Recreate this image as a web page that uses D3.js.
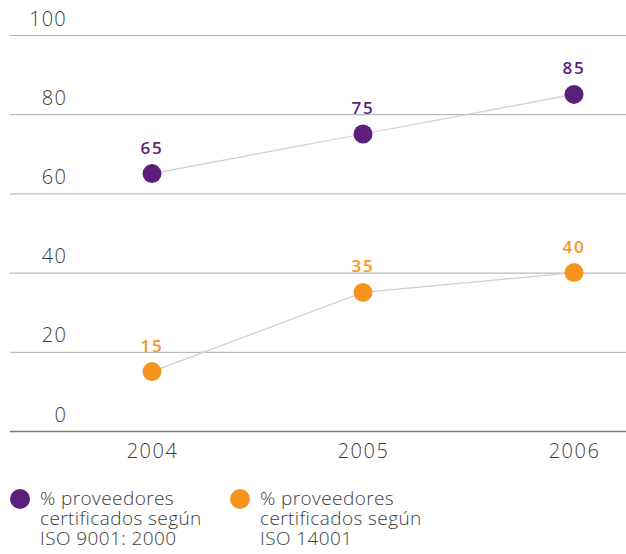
<!DOCTYPE html>
<html>
<head>
<meta charset="utf-8">
<script src="https://cdn.jsdelivr.net/npm/d3@7"></script>
<style>
  html, body { margin: 0; padding: 0; background: #fff; }
  svg { display: block; }
  svg text { font-family: "Open Sans", "Noto Sans", sans-serif; }
</style>
</head>
<body>
<svg id="chart" width="626" height="554"></svg>
<script>
// Years on the x axis
const years = ["2004", "2005", "2006"];
// % suppliers certified per standard
const iso9001 = [65, 75, 85];
const iso14001 = [15, 35, 40];
// y-axis ticks
const yTicks = [0, 20, 40, 60, 80, 100];
const seriesNames = [
  ["% proveedores", "certificados según", "ISO 9001: 2000"],
  ["% proveedores", "certificados según", "ISO 14001"]
];
const seriesColors = ["#5c1f7a", "#f7941d"];

const svg = d3.select("#chart");
const plot = { left: 10, right: 626, top: 35, bottom: 431 };
const textColor = "#3c3c3c";

const x = d3.scalePoint().domain(years).range([152, 574]);
const y = d3.scaleLinear().domain([0, 100]).range([plot.bottom, plot.top]);

// Gridlines and tick labels
const yAxis = d3.axisLeft(y).tickValues(yTicks).tickSize(-(plot.right - plot.left)).tickFormat(d3.format("d"));
const gy = svg.append("g").attr("transform", `translate(${plot.left},0)`).call(yAxis);
gy.attr("font-family", null);
gy.select(".domain").remove();
gy.selectAll(".tick line")
  .attr("stroke", d => d === 0 ? "#777" : "#aaa")
  .attr("stroke-width", d => d === 0 ? 1.3 : 1);
gy.selectAll(".tick text")
  .attr("x", 57).attr("dy", "-0.5em")
  .attr("text-anchor", "end")
  .attr("fill", textColor)
  .style("font-size", "20px").style("font-weight", 300)
  .style("letter-spacing", "1.2px");

// Year labels
const xAxis = d3.axisBottom(x).tickSize(0).tickPadding(13);
const gx = svg.append("g").attr("transform", `translate(0,${plot.bottom})`).call(xAxis);
gx.attr("font-family", null);
gx.select(".domain").remove();
gx.selectAll(".tick text")
  .attr("fill", textColor)
  .style("font-size", "20px").style("font-weight", 300)
  .style("letter-spacing", "1.5px");

const line = d3.line().x((d, i) => x(years[i])).y(d => y(d));

[iso9001, iso14001].forEach((vals, s) => {
  const g = svg.append("g");
  g.append("path").datum(vals)
    .attr("d", line).attr("fill", "none")
    .attr("stroke", "#cfcfcf").attr("stroke-width", 1.2);
  g.selectAll("circle").data(vals).join("circle")
    .attr("cx", (d, i) => x(years[i])).attr("cy", d => y(d))
    .attr("r", 9.5).attr("fill", seriesColors[s]);
  g.selectAll("text").data(vals).join("text")
    .attr("x", (d, i) => x(years[i])).attr("y", d => y(d) - 20)
    .attr("text-anchor", "middle")
    .attr("fill", seriesColors[s])
    .style("font-size", "17px").style("font-weight", 600)
    .style("letter-spacing", "1.8px")
    .text(d => d);
});

// Legend
const legendX = [20, 240];
seriesNames.forEach((lines, s) => {
  const g = svg.append("g").attr("transform", `translate(${legendX[s]},499)`);
  g.append("circle").attr("r", 10).attr("fill", seriesColors[s]);
  g.selectAll("text").data(lines).join("text")
    .attr("x", 20).attr("y", (d, i) => 6 + i * 20)
    .attr("fill", textColor)
    .style("font-size", "19px").style("font-weight", 300)
    .style("letter-spacing", "0.4px")
    .text(d => d);
});
</script>
</body>
</html>
